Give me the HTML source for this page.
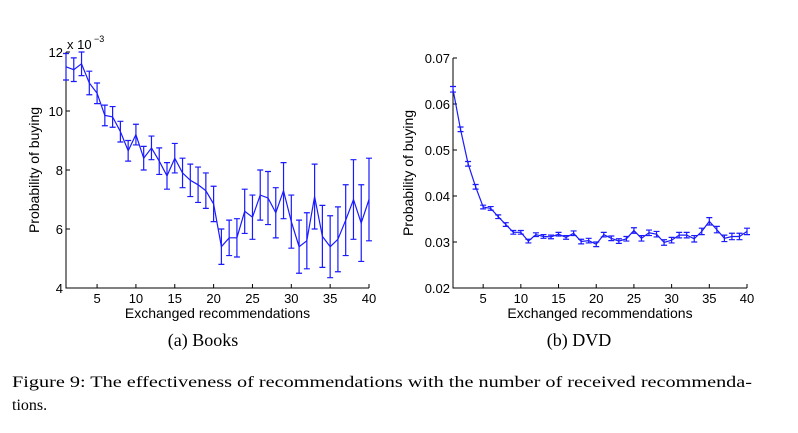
<!DOCTYPE html>
<html><head><meta charset="utf-8"><style>
body{margin:0;background:#fff;width:798px;height:428px;overflow:hidden}
svg text{font-family:"Liberation Sans",Arial,sans-serif}
.serif{font-family:"Liberation Serif","DejaVu Serif",serif}
</style></head><body>
<svg id="fig" width="798" height="428" viewBox="0 0 798 428" xmlns="http://www.w3.org/2000/svg">
<g id="booksChart"></g>
<g id="dvdChart"></g>
<text class="serif" x="203" y="346" font-size="18" text-anchor="middle">(a) Books</text>
<text class="serif" x="579" y="346" font-size="18" text-anchor="middle">(b) DVD</text>
<text class="serif" x="12" y="387" font-size="16" textLength="740" lengthAdjust="spacingAndGlyphs">Figure 9: The effectiveness of recommendations with the number of received recommenda-</text>
<text class="serif" x="12" y="410" font-size="16">tions.</text>
</svg>
<script>
const xs = [];
for (let i = 1; i <= 40; i++) xs.push(i);
const bookMeans = [11.5,11.4,11.6,10.95,10.6,9.85,9.8,9.3,8.65,9.2,8.4,8.75,8.3,7.8,8.4,7.9,7.65,7.5,7.3,6.85,5.4,5.7,5.7,6.6,6.4,7.15,7.05,6.55,7.3,6.25,5.4,5.6,7.1,5.75,5.4,5.65,6.3,7.0,6.2,7.0];
const bookErrs = [0.45,0.4,0.4,0.4,0.35,0.35,0.35,0.35,0.35,0.35,0.4,0.4,0.45,0.45,0.5,0.5,0.55,0.6,0.6,0.6,0.6,0.6,0.65,0.75,0.75,0.85,0.9,0.85,0.95,0.9,0.9,0.95,1.1,1.05,1.05,1.1,1.2,1.35,1.3,1.4];
const bookYTicks = [4,6,8,10,12];
const dvdMeans = [0.0632,0.0545,0.047,0.042,0.0376,0.0373,0.0355,0.0338,0.0321,0.0321,0.0302,0.0316,0.0312,0.0311,0.0317,0.031,0.0319,0.0301,0.0303,0.0295,0.0316,0.0308,0.0302,0.0307,0.0325,0.0308,0.032,0.0317,0.0299,0.0304,0.0315,0.0315,0.0307,0.0323,0.0345,0.0327,0.0308,0.0312,0.0312,0.0323];
const dvdErrs = [0.0006,0.0005,0.0005,0.0005,0.0004,0.0004,0.0004,0.0004,0.0004,0.0004,0.0004,0.0004,0.0004,0.0004,0.0004,0.0004,0.0005,0.0005,0.0005,0.0005,0.0005,0.0005,0.0005,0.0005,0.0006,0.0006,0.0006,0.0006,0.0006,0.0006,0.0006,0.0006,0.0007,0.0007,0.0008,0.0007,0.0007,0.0007,0.0007,0.0007];
const dvdYTicks = [0.02,0.03,0.04,0.05,0.06,0.07];
const xTicks = [5,10,15,20,25,30,35,40];
const NS = "http://www.w3.org/2000/svg";
function mk(parent, tag, attrs, text){
  const e = document.createElementNS(NS, tag);
  for (const k in attrs) e.setAttribute(k, attrs[k]);
  if (text !== undefined) e.textContent = text;
  parent.appendChild(e); return e;
}
function draw(gid, box, ymin, ymax, means, errs, yticks, fmt, ytx, prefix){
  const g = document.getElementById(gid);
  const X = v => box.x0 + (v-1)/39*(box.x1-box.x0);
  const Y = v => box.y0 - (v-ymin)/(ymax-ymin)*(box.y0-box.y1);
  const ax = mk(g,'path',{d:`M${box.x0},${box.y1}V${box.y0}H${box.x1}`,stroke:'#000',fill:'none','stroke-width':1});
  
  
  xTicks.forEach(t=>{
    const px = X(t);
    const tk = mk(g,'line',{x1:px,x2:px,y1:box.y0,y2:box.y0-4,stroke:'#000'});
    
    
    const tl = mk(g,'text',{x:px,y:box.y0+15,'font-size':13,'text-anchor':'middle'},String(t));
    
    
  });
  yticks.forEach(t=>{
    const py = Y(t);
    const tk = mk(g,'line',{x1:box.x0,x2:box.x0+4,y1:py,y2:py,stroke:'#000'});
    
    
    const tl = mk(g,'text',{x:box.x0-3,y:py+5,'font-size':13,'text-anchor':'end'},fmt(t));
    
    
  });
  const xl = mk(g,'text',{x:(box.x0+box.x1)/2,y:box.y0+30,'font-size':14,'text-anchor':'middle'},'Exchanged recommendations');
  
  
  const cy = (box.y0+box.y1)/2;
  const yl = mk(g,'text',{x:ytx,y:cy,'font-size':14,'text-anchor':'middle',transform:`rotate(-90 ${ytx} ${cy})`},'Probability of buying');
  
  
  const col = '#1a1aff';
  const pts = xs.map((x,i)=>X(x).toFixed(1)+','+Y(means[i]).toFixed(1)).join(' ');
  const ln = mk(g,'polyline',{points:pts,fill:'none',stroke:col,'stroke-width':1.2});
  
  
  xs.forEach((x,i)=>{
    const px = X(x), a = Y(means[i]+errs[i]), b = Y(means[i]-errs[i]);
    const eb = mk(g,'path',{d:`M${px},${a}V${b}M${px-3},${a}H${px+3}M${px-3},${b}H${px+3}`,stroke:col,'stroke-width':1.2,fill:'none'});
    
    
  });
}
draw('booksChart',{x0:66,x1:369,y0:288,y1:52},4,12,bookMeans,bookErrs,bookYTicks,t=>String(t),39,'books');
const bg = document.getElementById('booksChart');
const ex = mk(bg,'text',{x:67,y:49,'font-size':13},'x 10');


const ex2 = mk(bg,'text',{x:94,y:42,'font-size':9},'−3');


draw('dvdChart',{x0:453,x1:747,y0:288,y1:58},0.02,0.07,dvdMeans,dvdErrs,dvdYTicks,t=>t.toFixed(2),413,'dvd');
</script>
</body></html>
